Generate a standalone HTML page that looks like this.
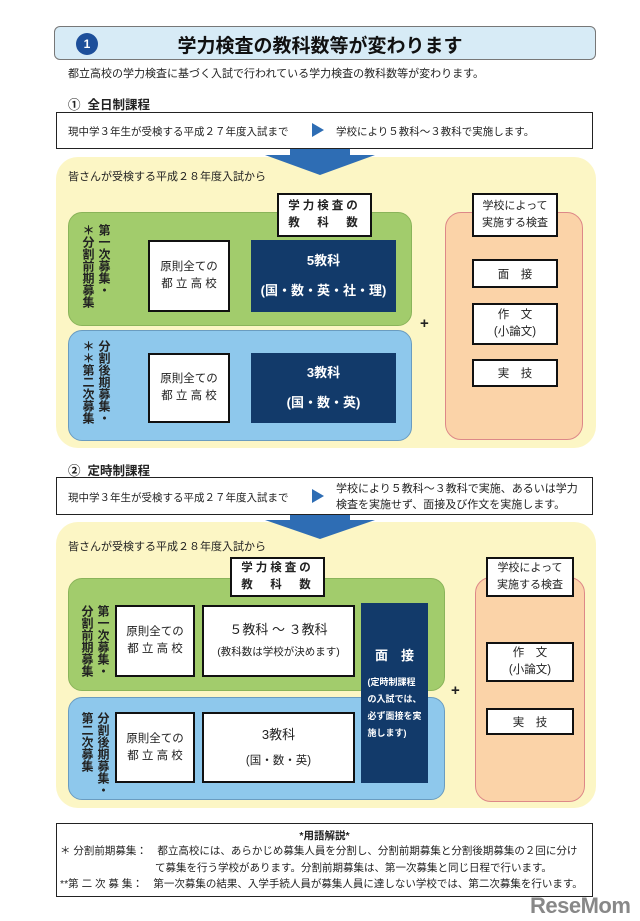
<!DOCTYPE html>
<html><head><meta charset="utf-8"><style>
*{margin:0;padding:0;box-sizing:border-box}
body{width:640px;height:921px;background:#fff;position:relative;overflow:hidden;font-family:"Liberation Sans","Noto Sans CJK JP",sans-serif;color:#222}
.a{position:absolute}
.c{display:flex;align-items:center;justify-content:center;text-align:center;flex-direction:column}
.wb{background:#fff;border:2px solid #111}
.nv{background:#123a6a;color:#fff;font-weight:bold}
.vt{writing-mode:vertical-rl;font-size:12px;font-weight:bold;letter-spacing:0px;line-height:1}
</style></head><body>
<!-- title -->
<div class="a" style="left:54px;top:26px;width:542px;height:34px;background:#d7ebf6;border:1px solid #777;border-radius:6px"></div>
<div class="a c" style="left:76px;top:33px;width:22px;height:22px;border-radius:50%;background:#1d4f9a;color:#fff;font-size:12px;font-weight:bold">1</div>
<div class="a" style="left:150px;top:31px;width:340px;text-align:center;font-size:19px;font-weight:bold;color:#111">学力検査の教科数等が変わります</div>
<div class="a" style="left:68px;top:65px;font-size:11px">都立高校の学力検査に基づく入試で行われている学力検査の教科数等が変わります。</div>
<div class="a" style="left:68px;top:94px;font-size:12.5px;font-weight:bold">①&nbsp; 全日制課程</div>
<div class="a" style="left:56px;top:112px;width:537px;height:37px;border:1.5px solid #222;background:#fff"></div>
<div class="a" style="left:68px;top:124px;font-size:10.5px">現中学３年生が受検する平成２７年度入試まで</div>
<div class="a" style="left:312px;top:123px;width:0;height:0;border-top:7px solid transparent;border-bottom:7px solid transparent;border-left:12px solid #2e6db4"></div>
<div class="a" style="left:336px;top:124px;font-size:10.5px">学校により５教科～３教科で実施します。</div>
<!-- panel 1 -->
<div class="a" style="left:56px;top:157px;width:540px;height:291px;background:#fcf6c5;border-radius:22px"></div>
<svg class="a" style="left:260px;top:149px" width="120" height="30"><polygon points="30,0 90,0 90,6 115,6 60,26 5,6 30,6" fill="#2e6db4"/></svg>
<div class="a" style="left:68px;top:168px;font-size:11px">皆さんが受検する平成２８年度入試から</div>
<div class="a" style="left:68px;top:212px;width:344px;height:114px;background:#a2cc6c;border-radius:14px;border:1px solid #8ab45a"></div>
<div class="a" style="left:68px;top:330px;width:344px;height:111px;background:#8ec8ec;border-radius:14px;border:1px solid #6a9cc0"></div>
<div class="a c wb" style="left:277px;top:193px;width:95px;height:44px;font-size:11.5px;font-weight:bold;letter-spacing:3px;line-height:17px">学力検査の<br>教　科　数</div>
<div class="a vt" style="left:98px;top:224px">第一次募集・</div>
<div class="a vt" style="left:82px;top:224px">＊分割前期募集</div>
<div class="a vt" style="left:98px;top:340px">分割後期募集・</div>
<div class="a vt" style="left:82px;top:340px">＊＊第二次募集</div>
<div class="a c wb" style="left:148px;top:240px;width:82px;height:72px;font-size:11.5px;line-height:17px">原則全ての<br>都 立 高 校</div>
<div class="a c nv" style="left:251px;top:240px;width:145px;height:72px;font-size:13px;line-height:30px">5教科<br>(国・数・英・社・理)</div>
<div class="a c wb" style="left:148px;top:353px;width:82px;height:70px;font-size:11.5px;line-height:17px">原則全ての<br>都 立 高 校</div>
<div class="a c nv" style="left:251px;top:353px;width:145px;height:70px;font-size:13px;line-height:30px">3教科<br>(国・数・英)</div>
<div class="a" style="left:420px;top:315px;font-size:15px;font-weight:bold">+</div>
<div class="a" style="left:445px;top:212px;width:138px;height:228px;background:#fbd3a8;border:1px solid #d88;border-radius:16px"></div>
<div class="a c wb" style="left:472px;top:193px;width:86px;height:44px;font-size:11px;line-height:17px">学校によって<br>実施する検査</div>
<div class="a c wb" style="left:472px;top:259px;width:86px;height:29px;font-size:11.5px">面　接</div>
<div class="a c wb" style="left:472px;top:303px;width:86px;height:42px;font-size:11.5px;line-height:17px">作　文<br>(小論文)</div>
<div class="a c wb" style="left:472px;top:359px;width:86px;height:28px;font-size:11.5px">実　技</div>
<!-- section 2 -->
<div class="a" style="left:68px;top:460px;font-size:12.5px;font-weight:bold">②&nbsp; 定時制課程</div>
<div class="a" style="left:56px;top:477px;width:537px;height:38px;border:1.5px solid #222;background:#fff"></div>
<div class="a" style="left:68px;top:490px;font-size:10.5px">現中学３年生が受検する平成２７年度入試まで</div>
<div class="a" style="left:312px;top:489px;width:0;height:0;border-top:7px solid transparent;border-bottom:7px solid transparent;border-left:12px solid #2e6db4"></div>
<div class="a" style="left:336px;top:481px;font-size:11px;line-height:16px">学校により５教科～３教科で実施、あるいは学力<br>検査を実施せず、面接及び作文を実施します。</div>
<div class="a" style="left:56px;top:522px;width:540px;height:286px;background:#fcf6c5;border-radius:22px"></div>
<svg class="a" style="left:260px;top:515px" width="120" height="30"><polygon points="30,0 90,0 90,5 115,5 60,24 5,5 30,5" fill="#2e6db4"/></svg>
<div class="a" style="left:68px;top:538px;font-size:11px">皆さんが受検する平成２８年度入試から</div>
<div class="a" style="left:68px;top:578px;width:377px;height:113px;background:#a2cc6c;border-radius:14px;border:1px solid #8ab45a"></div>
<div class="a" style="left:68px;top:697px;width:377px;height:103px;background:#8ec8ec;border-radius:14px;border:1px solid #6a9cc0"></div>
<div class="a c wb" style="left:230px;top:557px;width:95px;height:40px;font-size:11.5px;font-weight:bold;letter-spacing:3px;line-height:17px">学力検査の<br>教　科　数</div>
<div class="a vt" style="left:97px;top:605px">第一次募集・</div>
<div class="a vt" style="left:81px;top:605px">分割前期募集</div>
<div class="a vt" style="left:97px;top:712px">分割後期募集・</div>
<div class="a vt" style="left:81px;top:712px">第二次募集</div>
<div class="a c wb" style="left:115px;top:605px;width:80px;height:72px;font-size:11.5px;line-height:17px">原則全ての<br>都 立 高 校</div>
<div class="a c wb" style="left:202px;top:605px;width:153px;height:72px;line-height:22px"><span style="font-size:13px">５教科 ～ ３教科</span><span style="font-size:10.5px">(教科数は学校が決めます)</span></div>
<div class="a c wb" style="left:115px;top:712px;width:80px;height:71px;font-size:11.5px;line-height:17px">原則全ての<br>都 立 高 校</div>
<div class="a c wb" style="left:202px;top:712px;width:153px;height:71px;font-size:13px;line-height:26px">3教科<br><span style="font-size:11.5px">(国・数・英)</span></div>
<div class="a c nv" style="left:361px;top:603px;width:67px;height:180px"><div style="font-size:13px;margin-bottom:10px">面　接</div><div style="font-size:9px;line-height:17px;text-align:left">(定時制課程<br>の入試では、<br>必ず面接を実<br>施します)</div></div>
<div class="a" style="left:451px;top:682px;font-size:15px;font-weight:bold">+</div>
<div class="a" style="left:475px;top:577px;width:110px;height:225px;background:#fbd3a8;border:1px solid #d88;border-radius:16px"></div>
<div class="a c wb" style="left:486px;top:557px;width:88px;height:40px;font-size:11px;line-height:17px">学校によって<br>実施する検査</div>
<div class="a c wb" style="left:486px;top:642px;width:88px;height:40px;font-size:11.5px;line-height:17px">作　文<br>(小論文)</div>
<div class="a c wb" style="left:486px;top:708px;width:88px;height:27px;font-size:11.5px">実　技</div>
<!-- footer -->
<div class="a" style="left:56px;top:823px;width:537px;height:74px;border:1.5px solid #222;background:#fff"></div>
<div class="a" style="left:56px;top:828px;width:537px;text-align:center;font-size:10.5px;font-weight:bold">*用語解説*</div>
<div class="a" style="left:60px;top:843px;font-size:10.5px;line-height:16.5px;white-space:nowrap">＊ 分割前期募集：　都立高校には、あらかじめ募集人員を分割し、分割前期募集と分割後期募集の２回に分け<br><span style="padding-left:95px">て募集を行う学校があります。分割前期募集は、第一次募集と同じ日程で行います。</span><br>**第 二 次 募 集：　第一次募集の結果、入学手続人員が募集人員に達しない学校では、第二次募集を行います。</div>
<div class="a" style="left:530px;top:893px;font-size:22px;font-weight:bold;color:#888;letter-spacing:-0.5px">ReseMom</div>
</body></html>
